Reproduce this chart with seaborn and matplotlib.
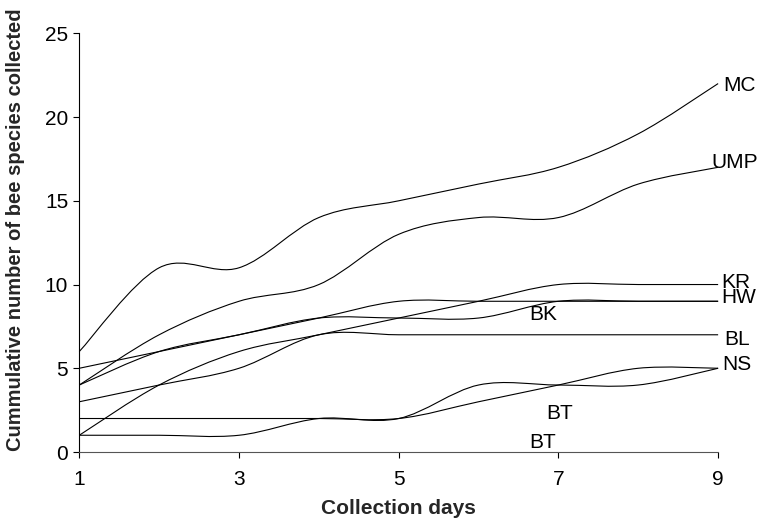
import matplotlib
matplotlib.use("Agg")
import matplotlib.pyplot as plt
import seaborn as sns
from matplotlib.path import Path
from matplotlib.patches import PathPatch

# Cumulative species per site over the collection days
days = [1, 2, 3, 4, 5, 6, 7, 8, 9]
mc = [6, 11, 11, 14, 15, 16, 17, 19, 22]
ump = [4, 7, 9, 10, 13, 14, 14, 16, 17]
kr = [1, 4, 6, 7, 8, 9, 10, 10, 10]
hw = [5, 6, 7, 8, 9, 9, 9, 9, 9]
bk = [4, 6, 7, 8, 8, 8, 9, 9, 9]
bl = [3, 4, 5, 7, 7, 7, 7, 7, 7]
ns = [2, 2, 2, 2, 2, 3, 4, 5, 5]
bt = [1, 1, 1, 2, 2, 4, 4, 4, 5]

series = [mc, ump, kr, hw, bk, bl, ns, bt]

# text labels as they sit on the chart (label, x, y)
site_labels = [
    ("MC", 9.07, 21.9),
    ("UMP", 8.91, 17.3),
    ("KR", 9.04, 10.1),
    ("HW", 9.04, 9.2),
    ("BL", 9.08, 6.7),
    ("NS", 9.05, 5.2),
    ("BK", 6.64, 8.2),
    ("BT", 6.85, 2.3),
    ("BT", 6.64, 0.55),
]


def smooth_path(x, y):
    """
    Excel style smoothed line: cubic bezier through every point
    """
    n = len(x)
    verts = [(x[0], y[0])]
    codes = [Path.MOVETO]
    for i in range(n - 1):
        i0 = max(i - 1, 0)
        i3 = min(i + 2, n - 1)
        c1 = (x[i] + (x[i + 1] - x[i0]) / 6, y[i] + (y[i + 1] - y[i0]) / 6)
        c2 = (x[i + 1] - (x[i3] - x[i]) / 6, y[i + 1] - (y[i3] - y[i]) / 6)
        verts += [c1, c2, (x[i + 1], y[i + 1])]
        codes += [Path.CURVE4] * 3
    return Path(verts, codes)


sns.set_style("ticks")
plt.rcParams["font.family"] = ["Liberation Sans", "DejaVu Sans"]

fig = plt.figure(figsize=(7.58, 5.24), dpi=100)
ax = fig.add_axes([0.1046, 0.1374, 0.8428, 0.799])

for values in series:
    patch = PathPatch(
        smooth_path(days, values),
        facecolor="none",
        edgecolor="black",
        linewidth=0.8,
        clip_on=False,
    )
    ax.add_patch(patch)

for name, lx, ly in site_labels:
    ax.text(lx, ly, name, fontsize=15, ha="left", va="center", color="black")

ax.set_xlim(1, 9)
ax.set_ylim(0, 25)
ax.set_xticks([1, 3, 5, 7, 9])
ax.set_yticks([0, 5, 10, 15, 20, 25])
ax.tick_params(axis="both", direction="out", length=4, width=0.8, labelsize=15, colors="black")
ax.tick_params(axis="y", pad=4)
ax.tick_params(axis="x", pad=9)

sns.despine(ax=ax)
ax.spines["left"].set_linewidth(0.8)
ax.spines["left"].set_color("black")
ax.spines["bottom"].set_linewidth(0.8)
ax.spines["bottom"].set_color("#555555")

ax.set_xlabel("Collection days", fontsize=15, fontweight="bold")
ax.set_ylabel("Cummulative number of bee species collected", fontsize=14.5, fontweight="bold")
ax.xaxis.set_label_coords(0.5, -0.112)
ax.yaxis.set_label_coords(-0.085, 0.53)

fig.savefig("out.png", dpi=100)
